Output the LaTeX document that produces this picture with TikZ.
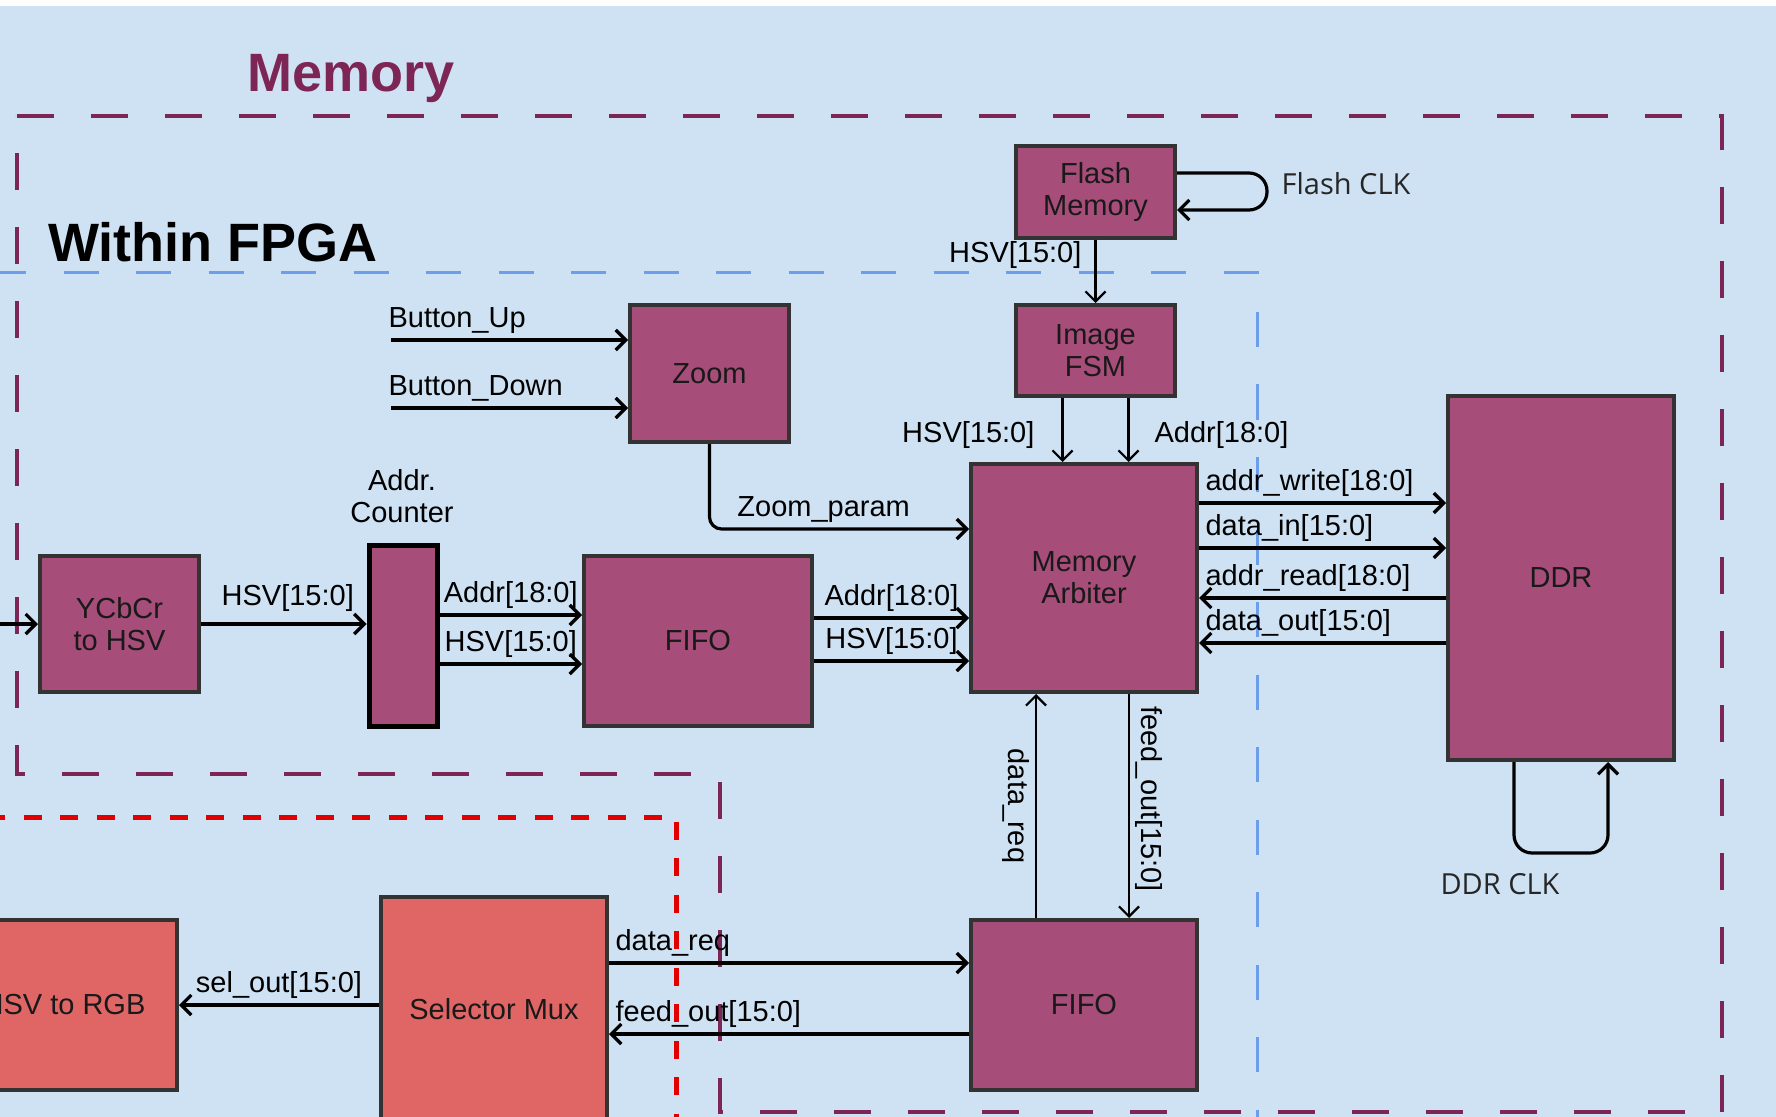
\documentclass[tikz,border=0pt]{standalone}
\usepackage{fontspec}
\setmainfont{Liberation Sans}
\newfontfamily\clkfont{Open Sans}
\usepackage{xcolor}
\usetikzlibrary{positioning, calc, arrows.meta}

\definecolor{bgblue}{HTML}{CFE2F3}
\definecolor{blockfill}{HTML}{A64D79}
\definecolor{blockline}{HTML}{333333}
\definecolor{redfill}{HTML}{E06666}
\definecolor{memcolor}{HTML}{7D2656}
\definecolor{fpgacolor}{HTML}{6D9EEB}
\definecolor{dotred}{HTML}{E00000}

\newcommand\blockfont{\fontsize{14.5}{16}\selectfont}
\newcommand\headfont{\fontsize{27}{30}\selectfont\bfseries}

\begin{document}
\begin{tikzpicture}[x=0.5pt, y=-0.5pt,
        block/.style={draw=blockline, fill=blockfill, line width=2pt, align=center, font=\blockfont, text=black!90, inner sep=0pt},
        redblock/.style={block, fill=redfill},
        wire/.style={line width=1.6pt, -{Straight Barb[length=5pt, width=10pt]}},
        thinwire/.style={wire, line width=1.1pt},
        sig/.style={font=\blockfont, inner sep=2.5pt},
        clk/.style={font=\clkfont\fontsize{14.5}{16}\selectfont, text=black!85},
        memline/.style={draw=memcolor, line width=2pt, dash pattern=on 18.5pt off 18.5pt},
        fpgaline/.style={draw=fpgacolor, line width=1.5pt, dash pattern=on 17.5pt off 18.75pt},
        redline/.style={draw=dotred, line width=2.5pt, dash pattern=on 9pt off 9.25pt}]
        \useasboundingbox (0,0) rectangle (1776,1117);
        \clip (0,0) rectangle (1776,1117);
        \fill[white] (0,0) rectangle (1776,1117);
        \fill[bgblue] (0,6) rectangle (1776,1117);

        % regions
        \draw[memline] (17,116) -- (1722,116) -- (1722,1112) -- (720,1112) -- (720,774) -- (17,774) -- cycle;
        \draw[fpgaline] (-9,273) -- (1257,273) -- (1257,1130);
        \draw[redline] (-13,817) -- (676,817) -- (676,1130);
        \node[font=\headfont, text=memcolor, anchor=base west, inner sep=0pt] (memtitle) at (247,92) {Memory};
        \node[font=\headfont, anchor=base west, inner sep=0pt] (fpgatitle) at (48,262) {Within FPGA};

        % blocks
        \node[block, minimum width=79.5pt, minimum height=46pt] (flash) at (1095.5,192) {Flash\\Memory};
        \node[block, minimum width=79.5pt, minimum height=45.5pt] (fsm) at (1095.5,350.5) {Image\\FSM};
        \node[block, minimum width=79.5pt, minimum height=68.5pt] (zoom) at (709.5,373.5) {Zoom};
        \node[block, minimum width=79.5pt, minimum height=68pt] (ycbcr) at (119.5,624) {YCbCr\\to HSV};
        \node[block, draw=black, line width=2.5pt, minimum width=34pt, minimum height=90.5pt] (counter) at (403,635.5) {};
        \node[sig, align=center] (counterlbl) at (402,496) {Addr.\\Counter};
        \node[block, minimum width=114pt, minimum height=85pt] (fifo1) at (698,641) {FIFO};
        \node[block, minimum width=113pt, minimum height=114pt] (arbiter) at (1084,578) {Memory\\Arbiter};
        \node[block, minimum width=113pt, minimum height=182pt] (ddr) at (1561,578) {DDR};
        \node[block, minimum width=113pt, minimum height=85pt] (fifo2) at (1084,1005) {FIFO};
        \node[redblock, minimum width=113pt, minimum height=112pt] (mux) at (494,1009) {Selector Mux};
        \node[redblock, minimum width=113pt, minimum height=85pt] (hsvrgb) at (64,1005) {HSV to RGB};

        % flash and image fsm
        \coordinate (flA) at ($(flash.east)+(0,-19)$);
        \coordinate (flB) at ($(flash.east)+(0,18)$);
        \draw[wire, rounded corners=9pt] (flA) -- ++(90,0) |- (flB);
        \node[clk] (flashclk) at (1346,184) {Flash CLK};
        \draw[thinwire] (flash) -- node[sig, left=4pt, pos=0.24] {HSV[15:0]} (fsm);
        \coordinate (hsvtop) at ($(fsm.south)+(-33,0)$);
        \coordinate (addrtop) at ($(fsm.south)+(33,0)$);
        \draw[thinwire] (hsvtop) -- node[sig, left=11pt, pos=0.58] {HSV[15:0]} (hsvtop |- arbiter.north);
        \draw[thinwire] (addrtop) -- node[sig, right=10pt, pos=0.58] {Addr[18:0]} (addrtop |- arbiter.north);

        % zoom
        \coordinate (bup) at (391,340);
        \coordinate (bdown) at (391,408);
        \draw[wire] (bup) -- node[sig, pos=0, anchor=south west, xshift=-4.5pt] {Button\_Up} (bup -| zoom.west);
        \draw[wire] (bdown) -- node[sig, pos=0, anchor=south west, xshift=-4.5pt] {Button\_Down} (bdown -| zoom.west);
        \coordinate (zparam) at ($(arbiter.west)+(0,-49)$);
        \draw[wire, rounded corners=6pt] (zoom.south) |- node[sig, above, pos=0.72] {Zoom\_param} (zparam);

        % write path
        \coordinate (vin) at (-10,624);
        \draw[wire] (vin) -- (ycbcr.west);
        \draw[wire] (ycbcr.east) -- node[sig, above, yshift=3pt, xshift=2pt] {HSV[15:0]} (ycbcr.east -| counter.west);
        \draw[wire] (counter.east |- 0,615) -- node[sig, above] {Addr[18:0]} (fifo1.west |- 0,615);
        \draw[wire] (counter.east |- 0,664) -- node[sig, above] {HSV[15:0]} (fifo1.west |- 0,664);
        \draw[wire] (fifo1.east |- 0,618) -- node[sig, above] {Addr[18:0]} (arbiter.west |- 0,618);
        \draw[wire] (fifo1.east |- 0,661) -- node[sig, above] {HSV[15:0]} (arbiter.west |- 0,661);

        % arbiter and ddr
        \draw[wire] (arbiter.east |- 0,503) -- node[sig, pos=0, anchor=south west] {addr\_write[18:0]} (ddr.west |- 0,503);
        \draw[wire] (arbiter.east |- 0,548) -- node[sig, pos=0, anchor=south west] {data\_in[15:0]} (ddr.west |- 0,548);
        \draw[wire] (ddr.west |- 0,598) -- node[sig, pos=1, anchor=south west] {addr\_read[18:0]} (arbiter.east |- 0,598);
        \draw[wire] (ddr.west |- 0,643) -- node[sig, pos=1, anchor=south west] {data\_out[15:0]} (arbiter.east |- 0,643);
        \coordinate (ddrA) at ($(ddr.south)+(-47,0)$);
        \coordinate (ddrB) at ($(ddr.south)+(47,0)$);
        \draw[wire, rounded corners=9pt] (ddrA) -- ++(0,91) -| (ddrB);
        \node[clk] (ddrclk) at (1500,884) {DDR CLK};

        % read path
        \coordinate (dreq) at ($(fifo2.north)+(-48,0)$);
        \coordinate (fout) at ($(arbiter.south)+(45,0)$);
        \draw[thinwire] (dreq) -- node[sig, rotate=-90, anchor=north, pos=0.5] {data\_req} (dreq |- arbiter.south);
        \draw[thinwire] (fout) -- node[sig, rotate=-90, anchor=south, pos=0.47] {feed\_out[15:0]} (fout |- fifo2.north);
        \draw[wire] (mux.east |- 0,963) -- node[sig, pos=0, anchor=south west] {data\_req} (fifo2.west |- 0,963);
        \draw[wire] (fifo2.west |- 0,1034) -- node[sig, pos=1, anchor=south west] {feed\_out[15:0]} (mux.east |- 0,1034);
        \draw[wire] (mux.west |- hsvrgb.east) -- node[sig, above] {sel\_out[15:0]} (hsvrgb.east);
\end{tikzpicture}
\end{document}
